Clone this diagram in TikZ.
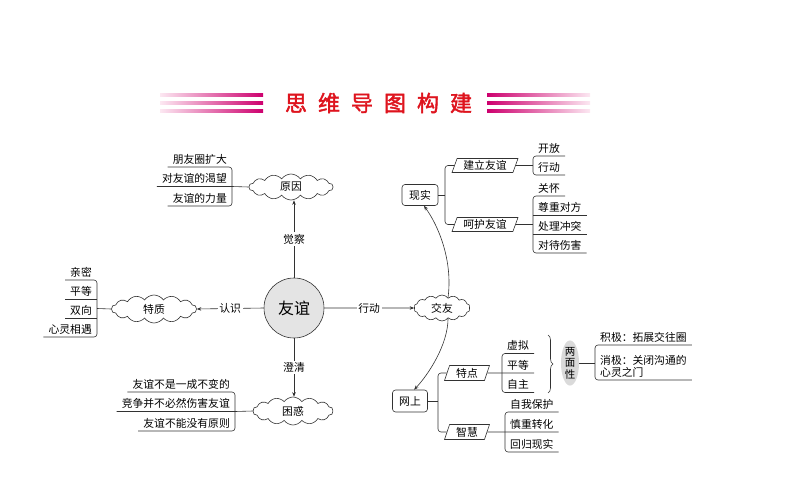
\documentclass[tikz,border=0pt]{standalone}
\usepackage{fontspec}
\setmainfont{Noto Sans CJK SC}
\newfontfamily\titlefont[FakeBold=2]{Noto Sans CJK SC}
\usetikzlibrary{shapes.symbols,shapes.geometric,arrows.meta,calc,decorations.pathreplacing}

\definecolor{xianse}{RGB}{50,50,50}
\definecolor{titlered}{RGB}{222,20,30}
\definecolor{stripe}{RGB}{205,0,110}
\definecolor{stripelight}{RGB}{252,232,242}
\definecolor{circgray}{RGB}{228,228,228}
\definecolor{ovalgray}{RGB}{218,218,218}

\newcommand{\xiaozi}{\fontsize{10.8}{12}\selectfont}

\tikzset{
  xian/.style={draw=xianse, line width=0.6pt},
  arr/.style={xian, -{Stealth[length=4.5pt,width=3.5pt]}},
  yun/.style={cloud, cloud puffs=14, cloud puff arc=110, aspect=3, draw=xianse,
    line width=0.6pt, fill=white, inner sep=0pt, font=\xiaozi},
  ye/.style={inner xsep=5pt, inner ysep=2.5pt, font=\xiaozi},
  kuang/.style={draw=xianse, line width=0.6pt, rounded corners=3pt,
    minimum width=36pt, minimum height=21pt, font=\xiaozi},
  xie/.style={trapezium, trapezium left angle=63, trapezium right angle=117,
    trapezium stretches body, draw=xianse, line width=0.6pt,
    minimum height=14pt, inner ysep=0pt, font=\xiaozi},
  biao/.style={fill=white, inner sep=1.5pt, font=\xiaozi},
}

\begin{document}
\begin{tikzpicture}[x=1pt, y=-1pt]
\useasboundingbox (0,0) rectangle (794,495);

% ===== title =====
\foreach \yy in {95,103,111} {
  \shade[left color=stripelight, right color=stripe] (160,\yy-1.3) rectangle (263,\yy+1.3);
  \shade[left color=stripe, right color=stripelight] (487,\yy-1.3) rectangle (590,\yy+1.3);
}
\node[text=titlered, font=\titlefont\fontsize{22}{24}\selectfont] (biaoti) at (378.5,103)
  {思\hspace{11pt}维\hspace{11pt}导\hspace{11pt}图\hspace{11pt}构\hspace{11pt}建};

% ===== centre and clouds =====
\node[circle, draw=xianse, line width=0.6pt, fill=circgray, minimum size=60pt,
  font=\fontsize{16}{18}\selectfont] (youyi) at (294,308) {友谊};
\node[yun, minimum width=84pt, minimum height=26pt] (yuanyin) at (291,187) {原因};
\node[yun, minimum width=85pt, minimum height=28pt] (tezhi) at (154,309) {特质};
\node[yun, minimum width=80pt, minimum height=28pt] (kunhuo) at (293,411) {困惑};
\node[yun, minimum width=56pt, minimum height=26pt] (jiaoyou) at (442,308) {交友};

\draw[arr] (youyi.north) -- (youyi.north |- yuanyin.south) node[biao, midway] {觉察};
\draw[arr] (youyi.west) -- (tezhi.east) node[biao, midway] {认识};
\draw[arr] (youyi.south) -- (youyi.south |- kunhuo.north) node[biao, midway] {澄清};
\draw[arr] (youyi.east) -- (jiaoyou.west) node[biao, midway] {行动};

% ===== 原因 =====
\node[ye, anchor=south east] (yy1) at (232,167) {朋友圈扩大};
\node[ye, anchor=south east] (yy2) at (232,186.5) {对友谊的渴望};
\node[ye, anchor=south east] (yy3) at (232,206) {友谊的力量};
\draw[xian, rounded corners=3pt] (yy1.south west) -- (yy1.south east) -- (yy3.south east) -- (yy3.south west);
\draw[xian] (yy2.south west) -- (yy2.south east) -- (yuanyin.west);

% ===== 特质 =====
\node[ye, anchor=south east] (tz1) at (97,280) {亲密};
\node[ye, anchor=south east] (tz2) at (97,299) {平等};
\node[ye, anchor=south east] (tz3) at (97,318) {双向};
\node[ye, anchor=south east] (tz4) at (97,337) {心灵相遇};
\draw[xian, rounded corners=3pt] (tz1.south west) -- (tz1.south east) -- (tz4.south east) -- (tz4.south west);
\draw[xian] (tz2.south west) -- (tz2.south east);
\draw[xian] (tz3.south west) -- (tz3.south east);
\coordinate (tzb) at ($(tz1.south east)!0.5!(tz4.south east)$);
\draw[xian] (tzb) -- (tezhi.west);

% ===== 困惑 =====
\node[ye, anchor=south east] (kh1) at (235,392) {友谊不是一成不变的};
\node[ye, anchor=south east] (kh2) at (235,411.5) {竞争并不必然伤害友谊};
\node[ye, anchor=south east] (kh3) at (235,431) {友谊不能没有原则};
\draw[xian, rounded corners=3pt] (kh1.south west) -- (kh1.south east) -- (kh3.south east) -- (kh3.south west);
\draw[xian] (kh2.south west) -- (kh2.south east) -- (kunhuo.west);

% ===== 交友: 现实 / 网上 =====
\node[kuang] (xianshi) at (420,195) {现实};
\node[kuang, minimum width=35pt, minimum height=22pt] (wangshang) at (410,401) {网上};
\draw[arr] (jiaoyou.60) .. controls (453,260) and (438,225) .. (xianshi.-70);
\draw[arr] (jiaoyou.-60) .. controls (448,345) and (428,375) .. (wangshang.70);

% 现实
\node[xie, minimum width=66pt] (jianli) at (485,165.5) {建立友谊};
\node[xie, minimum width=66pt] (hehu) at (485,224.5) {呵护友谊};
\coordinate (xsb) at (445,195);
\draw[xian] (xianshi.east) -- (xianshi.east -| xsb);
\draw[xian, rounded corners=3pt] (jianli.west) -- (jianli.west -| xsb) -- (hehu.west -| xsb) -- (hehu.west);

\node[ye, anchor=south west] (jl1) at (533,156) {开放};
\node[ye, anchor=south west] (jl2) at (533,175) {行动};
\draw[xian, rounded corners=3pt] (jl1.south east) -- (jl1.south west) -- (jl2.south west) -- (jl2.south east);
\draw[xian] (jianli.east) -- (jianli.east -| jl1.south west);

\node[ye, anchor=south west] (hh1) at (533,196) {关怀};
\node[ye, anchor=south west] (hh2) at (533,215) {尊重对方};
\node[ye, anchor=south west] (hh3) at (533,234) {处理冲突};
\node[ye, anchor=south west] (hh4) at (533,253) {对待伤害};
\draw[xian, rounded corners=3pt] (hh1.south east) -- (hh1.south west) -- (hh4.south west) -- (hh4.south east);
\draw[xian] (hh2.south west) -- (hh2.south east);
\draw[xian] (hh3.south west) -- (hh3.south east);
\draw[xian] (hehu.east) -- (hehu.east -| hh1.south west);

% 网上
\node[xie, minimum width=45pt, minimum height=15pt] (tedian) at (467,373) {特点};
\node[xie, minimum width=45pt, minimum height=15pt] (zhihui) at (467,432) {智慧};
\coordinate (wsb) at (438,401);
\draw[xian] (wangshang.east) -- (wangshang.east -| wsb);
\draw[xian, rounded corners=3pt] (tedian.west) -- (tedian.west -| wsb) -- (zhihui.west -| wsb) -- (zhihui.west);

\node[ye, anchor=south west] (td1) at (502,353.5) {虚拟};
\node[ye, anchor=south west] (td2) at (502,373) {平等};
\node[ye, anchor=south west] (td3) at (502,392.5) {自主};
\draw[xian, rounded corners=3pt] (td1.south east) -- (td1.south west) -- (td3.south west) -- (td3.south east);
\draw[xian] (tedian.east) -- (td2.south west) -- (td2.south east);

\node[ye, anchor=south west] (zh1) at (505,412) {自我保护};
\node[ye, anchor=south west] (zh2) at (505,432) {慎重转化};
\node[ye, anchor=south west] (zh3) at (505,452) {回归现实};
\draw[xian, rounded corners=3pt] (zh1.south east) -- (zh1.south west) -- (zh3.south west) -- (zh3.south east);
\draw[xian] (zhihui.east) -- (zh2.south west) -- (zh2.south east);

% 两面性
\draw[xian, decorate, decoration={brace, amplitude=5pt}] (548,335) -- (548,393);
\node[ellipse, fill=ovalgray, minimum width=18pt, minimum height=44pt, inner sep=0pt,
  align=center, font=\fontsize{10.5}{11.5}\selectfont] (liangmian) at (570,363) {两\\面\\性};
\node[ye, anchor=south west] (lm1) at (595,345) {积极：拓展交往圈};
\node[ye, anchor=south west, align=left] (lm2) at (595,380) {消极：关闭沟通的\\心灵之门};
\draw[xian, rounded corners=3pt] (lm1.south east) -- (lm1.south west) -- (lm2.south west) -- (lm2.south east);
\draw[xian] (liangmian.east) -- (liangmian.east -| lm1.south west);
\end{tikzpicture}
\end{document}
